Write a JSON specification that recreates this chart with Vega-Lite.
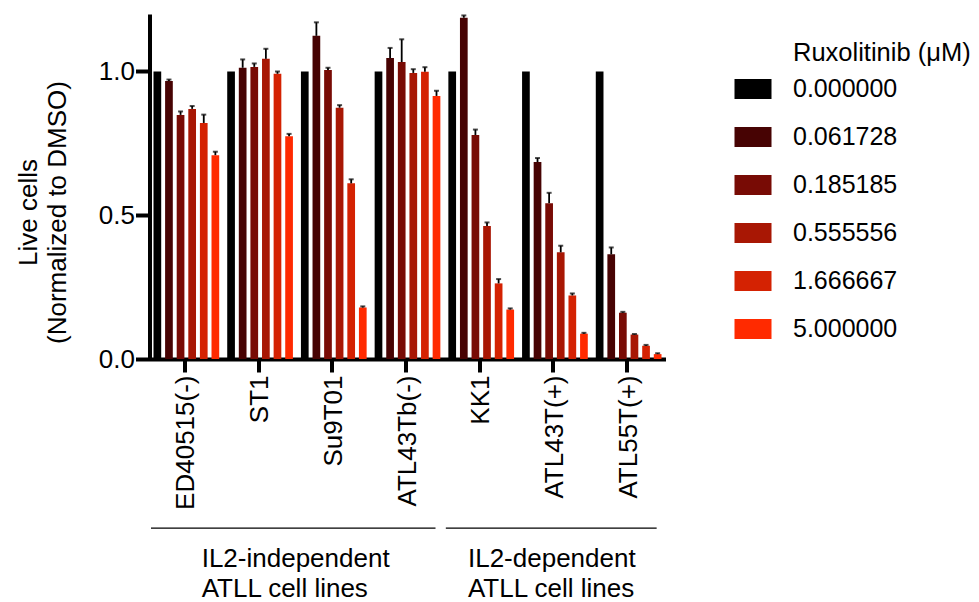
{
  "$schema": "https://vega.github.io/schema/vega-lite/v6.json",
  "width": 516,
  "height": 345,
  "autosize": {"type": "none"},
  "padding": {"left": 149.5, "top": 14, "right": 313.5, "bottom": 243},
  "config": {
    "font": "Liberation Sans",
    "view": {"stroke": null},
    "axis": {"labelColor": "#000000", "titleColor": "#000000", "domainColor": "#000000", "tickColor": "#000000", "grid": false, "titleFontWeight": "normal"}
  },
  "encoding": {
    "x": {
      "field": "cell",
      "type": "nominal",
      "sort": ["ED40515(-)", "ST1", "Su9T01", "ATL43Tb(-)", "KK1", "ATL43T(+)", "ATL55T(+)"],
      "scale": {"domain": ["ED40515(-)", "ST1", "Su9T01", "ATL43Tb(-)", "KK1", "ATL43T(+)", "ATL55T(+)"], "paddingInner": 0, "paddingOuter": 0},
      "axis": {
        "title": null,
        "labelAngle": -90,
        "labelAlign": "right",
        "labelBaseline": "middle",
        "labelFontSize": 26,
        "labelPadding": 3,
        "domainWidth": 4,
        "tickSize": 13,
        "tickWidth": 4,
        "bandPosition": 0.48
      }
    },
    "y": {
      "field": "value",
      "type": "quantitative",
      "scale": {"domain": [0, 1.2], "nice": false, "zero": true},
      "axis": {
        "title": ["Live cells", "(Normalized to DMSO)"],
        "values": [0, 0.5, 1.0],
        "format": ".1f",
        "labelFontSize": 26,
        "labelPadding": 1,
        "domainWidth": 4,
        "tickSize": 14,
        "tickWidth": 4,
        "titleFontSize": 26,
        "titleLineHeight": 28.5,
        "titleAlign": "center",
        "titleBaseline": "alphabetic",
        "titleAngle": -90,
        "titleX": -112.8,
        "titleY": 198
      }
    }
  },
  "layer": [
    {
      "data": {"name": "bars", "values": [
        {"cell": "ED40515(-)", "conc": "0.000000", "value": 1.0, "upper": null},
        {"cell": "ED40515(-)", "conc": "0.061728", "value": 0.967, "upper": 0.972},
        {"cell": "ED40515(-)", "conc": "0.185185", "value": 0.849, "upper": 0.861},
        {"cell": "ED40515(-)", "conc": "0.555556", "value": 0.870, "upper": 0.880},
        {"cell": "ED40515(-)", "conc": "1.666667", "value": 0.821, "upper": 0.850},
        {"cell": "ED40515(-)", "conc": "5.000000", "value": 0.709, "upper": 0.721},
        {"cell": "ST1", "conc": "0.000000", "value": 1.0, "upper": null},
        {"cell": "ST1", "conc": "0.061728", "value": 1.013, "upper": 1.042},
        {"cell": "ST1", "conc": "0.185185", "value": 1.016, "upper": 1.028},
        {"cell": "ST1", "conc": "0.555556", "value": 1.044, "upper": 1.079},
        {"cell": "ST1", "conc": "1.666667", "value": 0.992, "upper": 1.000},
        {"cell": "ST1", "conc": "5.000000", "value": 0.775, "upper": 0.783},
        {"cell": "Su9T01", "conc": "0.000000", "value": 1.0, "upper": null},
        {"cell": "Su9T01", "conc": "0.061728", "value": 1.124, "upper": 1.171},
        {"cell": "Su9T01", "conc": "0.185185", "value": 1.005, "upper": 1.013},
        {"cell": "Su9T01", "conc": "0.555556", "value": 0.874, "upper": 0.883},
        {"cell": "Su9T01", "conc": "1.666667", "value": 0.611, "upper": 0.625},
        {"cell": "Su9T01", "conc": "5.000000", "value": 0.179, "upper": 0.183},
        {"cell": "ATL43Tb(-)", "conc": "0.000000", "value": 1.0, "upper": null},
        {"cell": "ATL43Tb(-)", "conc": "0.061728", "value": 1.047, "upper": 1.082},
        {"cell": "ATL43Tb(-)", "conc": "0.185185", "value": 1.033, "upper": 1.112},
        {"cell": "ATL43Tb(-)", "conc": "0.555556", "value": 0.995, "upper": 1.008},
        {"cell": "ATL43Tb(-)", "conc": "1.666667", "value": 0.999, "upper": 1.015},
        {"cell": "ATL43Tb(-)", "conc": "5.000000", "value": 0.915, "upper": 0.933},
        {"cell": "KK1", "conc": "0.000000", "value": 1.0, "upper": null},
        {"cell": "KK1", "conc": "0.061728", "value": 1.187, "upper": 1.195},
        {"cell": "KK1", "conc": "0.185185", "value": 0.779, "upper": 0.798},
        {"cell": "KK1", "conc": "0.555556", "value": 0.463, "upper": 0.475},
        {"cell": "KK1", "conc": "1.666667", "value": 0.263, "upper": 0.278},
        {"cell": "KK1", "conc": "5.000000", "value": 0.172, "upper": 0.176},
        {"cell": "ATL43T(+)", "conc": "0.000000", "value": 1.0, "upper": null},
        {"cell": "ATL43T(+)", "conc": "0.061728", "value": 0.685, "upper": 0.699},
        {"cell": "ATL43T(+)", "conc": "0.185185", "value": 0.542, "upper": 0.578},
        {"cell": "ATL43T(+)", "conc": "0.555556", "value": 0.371, "upper": 0.394},
        {"cell": "ATL43T(+)", "conc": "1.666667", "value": 0.221, "upper": 0.228},
        {"cell": "ATL43T(+)", "conc": "5.000000", "value": 0.088, "upper": 0.091},
        {"cell": "ATL55T(+)", "conc": "0.000000", "value": 1.0, "upper": null},
        {"cell": "ATL55T(+)", "conc": "0.061728", "value": 0.364, "upper": 0.388},
        {"cell": "ATL55T(+)", "conc": "0.185185", "value": 0.161, "upper": 0.164},
        {"cell": "ATL55T(+)", "conc": "0.555556", "value": 0.085, "upper": 0.087},
        {"cell": "ATL55T(+)", "conc": "1.666667", "value": 0.046, "upper": 0.049},
        {"cell": "ATL55T(+)", "conc": "5.000000", "value": 0.017, "upper": 0.020}
      ]},
      "mark": {"type": "bar"},
      "encoding": {
        "xOffset": {
          "field": "conc",
          "type": "nominal",
          "sort": ["0.000000", "0.061728", "0.185185", "0.555556", "1.666667", "5.000000"],
          "scale": {"paddingInner": 0.336, "paddingOuter": 0.345}
        },
        "color": {
          "field": "conc",
          "type": "nominal",
          "sort": ["0.000000", "0.061728", "0.185185", "0.555556", "1.666667", "5.000000"],
          "scale": {
            "domain": ["0.000000", "0.061728", "0.185185", "0.555556", "1.666667", "5.000000"],
            "range": ["#000000", "#470303", "#780b05", "#a81704", "#d42202", "#ff2a00"]
          },
          "legend": {
            "orient": "none",
            "legendX": 643.5,
            "legendY": 27,
            "padding": 0,
            "title": "Ruxolitinib (μM)",
            "titleFontSize": 25.5,
            "titleFontWeight": "normal",
            "titleColor": "#000000",
            "titlePadding": 4,
            "labelFontSize": 25,
            "labelColor": "#000000",
            "labelOffset": 21.5,
            "symbolOffset": -58.5,
            "symbolType": "M-1,-0.54L1,-0.54L1,0.54L-1,0.54Z",
            "symbolSize": 1369,
            "symbolStrokeWidth": 0,
            "rowPadding": 16
          }
        }
      }
    },
    {
      "data": {"name": "bars"},
      "transform": [{"filter": "isValid(datum.upper)"}],
      "mark": {"type": "rule", "color": "#000000", "strokeWidth": 1.8},
      "encoding": {
        "xOffset": {
          "field": "conc",
          "type": "nominal",
          "sort": ["0.000000", "0.061728", "0.185185", "0.555556", "1.666667", "5.000000"],
          "scale": {"paddingInner": 0.336, "paddingOuter": 0.345}
        },
        "y2": {"field": "upper"}
      }
    },
    {
      "data": {"name": "bars"},
      "transform": [{"filter": "isValid(datum.upper)"}],
      "mark": {"type": "tick", "color": "#000000", "orient": "horizontal", "size": 5, "thickness": 2},
      "encoding": {
        "xOffset": {
          "field": "conc",
          "type": "nominal",
          "sort": ["0.000000", "0.061728", "0.185185", "0.555556", "1.666667", "5.000000"],
          "scale": {"paddingInner": 0.336, "paddingOuter": 0.345}
        },
        "y": {"field": "upper", "type": "quantitative"}
      }
    },
    {
      "data": {"values": [
        {"cell": "ED40515(-)", "cell2": "ATL43Tb(-)", "value": -0.588},
        {"cell": "KK1", "cell2": "ATL55T(+)", "value": -0.588}
      ]},
      "mark": {"type": "rule", "color": "#000000", "strokeWidth": 1.3},
      "encoding": {
        "x": {"field": "cell", "type": "nominal", "bandPosition": 0.02},
        "x2": {"field": "cell2", "bandPosition": 0.88}
      }
    },
    {
      "data": {"values": [
        {"cell": "ED40515(-)", "value": -0.7235, "label": "IL2-independent"},
        {"cell": "ED40515(-)", "value": -0.8278, "label": "ATLL cell lines"}
      ]},
      "mark": {"type": "text", "align": "left", "baseline": "alphabetic", "fontSize": 26, "color": "#000000"},
      "encoding": {
        "x": {"field": "cell", "type": "nominal", "bandPosition": 0.708},
        "text": {"field": "label", "type": "nominal"}
      }
    },
    {
      "data": {"values": [
        {"cell": "KK1", "value": -0.7235, "label": "IL2-dependent"},
        {"cell": "KK1", "value": -0.8278, "label": "ATLL cell lines"}
      ]},
      "mark": {"type": "text", "align": "left", "baseline": "alphabetic", "fontSize": 26, "color": "#000000"},
      "encoding": {
        "x": {"field": "cell", "type": "nominal", "bandPosition": 0.32},
        "text": {"field": "label", "type": "nominal"}
      }
    }
  ]
}
